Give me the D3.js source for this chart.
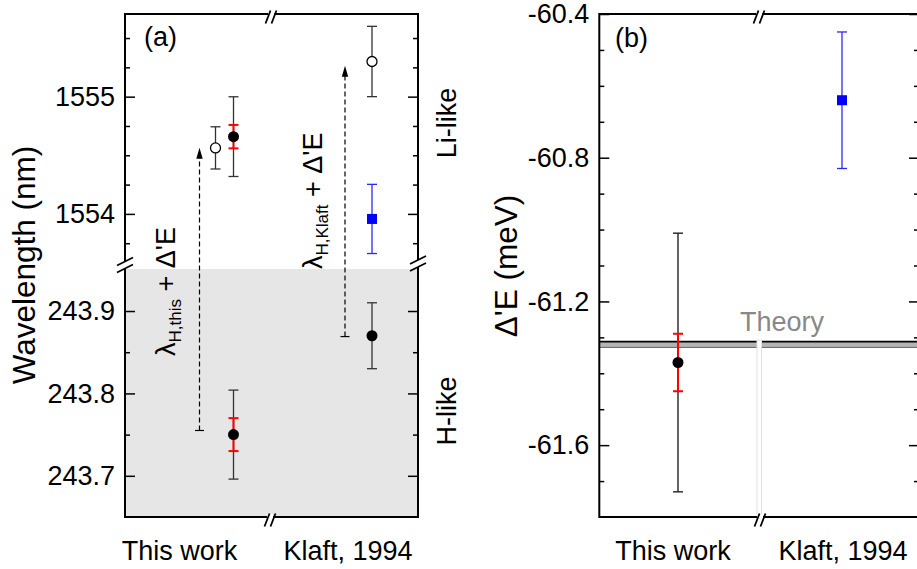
<!DOCTYPE html>
<html><head><meta charset="utf-8">
<script src="https://cdn.jsdelivr.net/npm/d3@7"></script>
<style>
html,body{margin:0;padding:0;background:#fff;}
text{font-family:"Liberation Sans",Arial,Helvetica,sans-serif;}
</style></head>
<body><svg id="c" width="917" height="569"></svg>
<script>
// ---------- DATA ----------
const categories = ["This work", "Klaft, 1994"];
// Panel (a), Li-like wavelengths (nm)
const liPredicted = [1554.563, 1555.30];       // open circles: lambda_H + Delta'E
const liPredictedErr = [0.18, 0.30];
const liThisWork = [1554.659];                 // filled circle (this work)
const liThisWorkErr = [0.34];
const liThisWorkErrStat = [0.10];
const liKlaft = [1553.957];                    // blue square (Klaft, 1994)
const liKlaftErr = [0.295];
// Panel (a), H-like wavelengths (nm)
const hLike = [243.750, 243.870];
const hLikeErr = [0.054, 0.040];
const hLikeErrStat = [0.020];
// Arrows lambda_H -> lambda_H + Delta'E
const arrowFrom = [243.755, 243.869];
const arrowTo = [1554.565, 1555.264];
// Panel (b), Delta'E (meV)
const dE = [-61.370, -60.640];
const dEErr = [0.36, 0.19];
const dEErrStat = [0.08];
const theoryDE = -61.320;
const theoryDEErr = 0.008;
// Ticks
const liTicks = [1554, 1555];
const liMinor = [1553.75, 1554.25, 1554.5, 1554.75, 1555.25, 1555.5];
const hTicks = [243.7, 243.8, 243.9];
const hMinor = [243.75, 243.85];
const dETicks = [-60.4, -60.8, -61.2, -61.6];
const dEMinor = [-60.5, -60.6, -60.7, -60.9, -61.0, -61.1, -61.3, -61.4, -61.5, -61.7];

// ---------- DRAW ----------
const svg = d3.select("#c");
const FS = 27;
const fmt1 = d => d.toFixed(1);

function slash(g, cx, cy, dx, dy) {
  g.append("line").attr("x1", cx - dx).attr("y1", cy + dy).attr("x2", cx + dx).attr("y2", cy - dy)
    .attr("stroke", "#000").attr("stroke-width", 1.8);
}
function hBreak(g, cx, y) { // break on a horizontal frame line
  g.append("rect").attr("x", cx - 3).attr("y", y - 3).attr("width", 6).attr("height", 6).attr("fill", "#fff");
  slash(g, cx - 3, y + 3, 2.5, 6.5);
  slash(g, cx + 3, y + 3, 2.5, 6.5);
}
function vBreak(g, x, y1, y2) { // break on a vertical frame line
  g.append("rect").attr("x", x - 3).attr("y", y1).attr("width", 6).attr("height", y2 - y1).attr("fill", "#fff");
  slash(g, x, y1, 8, 4);
  slash(g, x, y2, 8, 4);
}
function errBar(g, x, y1, y2, color, w, cap) {
  g.append("line").attr("x1", x).attr("x2", x).attr("y1", y1).attr("y2", y2).attr("stroke", color).attr("stroke-width", w);
  [y1, y2].forEach(y => g.append("line").attr("x1", x - cap).attr("x2", x + cap).attr("y1", y).attr("y2", y)
    .attr("stroke", color).attr("stroke-width", w));
}
function cleanAxis(sel) {
  sel.select(".domain").remove();
  sel.selectAll(".tick line").attr("stroke", "#000").attr("stroke-width", 1.5);
  sel.selectAll(".tick text").attr("font-size", FS).attr("fill", "#000")
     .style("font-family", '"Liberation Sans",Arial,sans-serif');
}

// ===== Panel (a) =====
const A = {l: 125, r: 418, t: 14, b: 517, brk: 269};
const xa = d3.scalePoint().domain(categories).range([179.5, 348]);
const yTop = d3.scaleLinear().domain([1553.53, 1555.705]).range([A.brk, A.t]);
const yBot = d3.scaleLinear().domain([243.65, 243.951]).range([A.b, A.brk]);
const ga = svg.append("g");

ga.append("rect").attr("x", A.l).attr("y", yBot.range()[1]).attr("width", A.r - A.l)
  .attr("height", yBot.range()[0] - yBot.range()[1]).attr("fill", "#e6e6e6");

// axes ticks
ga.append("g").attr("transform", `translate(${A.l},0)`)
  .call(d3.axisLeft(yTop).tickValues(liTicks).tickSizeInner(-10).tickSizeOuter(0).tickPadding(10).tickFormat(d3.format("d"))).call(cleanAxis);
ga.append("g").attr("transform", `translate(${A.l},0)`)
  .call(d3.axisLeft(yTop).tickValues(liMinor).tickSizeInner(-5).tickSizeOuter(0).tickFormat("")).call(cleanAxis);
ga.append("g").attr("transform", `translate(${A.l},0)`)
  .call(d3.axisLeft(yBot).tickValues(hTicks).tickSizeInner(-10).tickSizeOuter(0).tickPadding(10).tickFormat(fmt1)).call(cleanAxis);
ga.append("g").attr("transform", `translate(${A.l},0)`)
  .call(d3.axisLeft(yBot).tickValues(hMinor).tickSizeInner(-5).tickSizeOuter(0).tickFormat("")).call(cleanAxis);
ga.append("g").attr("transform", `translate(${A.r},0)`)
  .call(d3.axisRight(yTop).tickValues(liTicks).tickSizeInner(-10).tickSizeOuter(0).tickFormat("")).call(cleanAxis);
ga.append("g").attr("transform", `translate(${A.r},0)`)
  .call(d3.axisRight(yTop).tickValues(liMinor).tickSizeInner(-5).tickSizeOuter(0).tickFormat("")).call(cleanAxis);
ga.append("g").attr("transform", `translate(${A.r},0)`)
  .call(d3.axisRight(yBot).tickValues(hTicks).tickSizeInner(-10).tickSizeOuter(0).tickFormat("")).call(cleanAxis);
ga.append("g").attr("transform", `translate(${A.r},0)`)
  .call(d3.axisRight(yBot).tickValues(hMinor).tickSizeInner(-5).tickSizeOuter(0).tickFormat("")).call(cleanAxis);

// frame
ga.append("rect").attr("x", A.l).attr("y", A.t).attr("width", A.r - A.l).attr("height", A.b - A.t)
  .attr("fill", "none").attr("stroke", "#000").attr("stroke-width", 2);
hBreak(ga, 271, A.t);
hBreak(ga, 270, A.b);
vBreak(ga, A.l, 261.5, 268.5);
vBreak(ga, A.r, 260, 267);

// dashed arrows
arrowFrom.forEach((v, i) => {
  const x = xa(categories[i]) + (i === 0 ? 20 : -3);
  const y1 = yBot(v), y2 = yTop(arrowTo[i]);
  ga.append("line").attr("x1", x).attr("x2", x).attr("y1", y1).attr("y2", y2 + 10)
    .attr("stroke", "#000").attr("stroke-width", 1.2).attr("stroke-dasharray", "5,3");
  ga.append("line").attr("x1", x - 4.5).attr("x2", x + 4.5).attr("y1", y1).attr("y2", y1)
    .attr("stroke", "#000").attr("stroke-width", 1.2);
  ga.append("path").attr("d", `M${x},${y2} L${x - 3.2},${y2 + 11} L${x + 3.2},${y2 + 11} Z`).attr("fill", "#000");
});

// H-like points
hLike.forEach((v, i) => {
  const x = xa(categories[i]) + (i === 0 ? 54 : 24);
  errBar(ga, x, yBot(v + hLikeErr[i]), yBot(v - hLikeErr[i]), "#333", 1.3, 5);
  if (i < hLikeErrStat.length) errBar(ga, x, yBot(v + hLikeErrStat[i]), yBot(v - hLikeErrStat[i]), "#f00", 2, 5);
  ga.append("circle").attr("cx", x).attr("cy", yBot(v)).attr("r", 5.5).attr("fill", "#000");
});
// Li-like predicted (open circles)
liPredicted.forEach((v, i) => {
  const x = xa(categories[i]) + (i === 0 ? 36 : 24);
  errBar(ga, x, yTop(v + liPredictedErr[i]), yTop(v - liPredictedErr[i]), "#333", 1.3, 5);
  ga.append("circle").attr("cx", x).attr("cy", yTop(v)).attr("r", 5).attr("fill", "#fff")
    .attr("stroke", "#000").attr("stroke-width", 1.3);
});
// Li-like this work (filled)
liThisWork.forEach((v, i) => {
  const x = xa(categories[0]) + 54;
  errBar(ga, x, yTop(v + liThisWorkErr[i]), yTop(v - liThisWorkErr[i]), "#333", 1.3, 5);
  errBar(ga, x, yTop(v + liThisWorkErrStat[i]), yTop(v - liThisWorkErrStat[i]), "#f00", 2, 5);
  ga.append("circle").attr("cx", x).attr("cy", yTop(v)).attr("r", 5.5).attr("fill", "#000");
});
// Li-like Klaft (blue square)
liKlaft.forEach((v, i) => {
  const x = xa(categories[1]) + 24;
  errBar(ga, x, yTop(v + liKlaftErr[i]), yTop(v - liKlaftErr[i]), "#2a2aff", 1.3, 5);
  ga.append("rect").attr("x", x - 5).attr("y", yTop(v) - 5).attr("width", 10).attr("height", 10).attr("fill", "#00f");
});

// texts panel (a)
categories.forEach(c => ga.append("text").attr("x", xa(c)).attr("y", 560).attr("text-anchor", "middle")
  .attr("font-size", FS).text(c));
ga.append("text").attr("x", 144).attr("y", 46).attr("font-size", FS).text("(a)");
ga.append("text").attr("transform", "translate(35,265) rotate(-90)").attr("text-anchor", "middle")
  .attr("font-size", 31.5).text("Wavelength (nm)");
ga.append("text").attr("transform", "translate(456,123) rotate(-90)").attr("text-anchor", "middle")
  .attr("font-size", FS).text("Li-like");
ga.append("text").attr("transform", "translate(456,411) rotate(-90)").attr("text-anchor", "middle")
  .attr("font-size", FS).text("H-like");
function lamLabel(tx, ty, sub) {
  const t = ga.append("text").attr("transform", `translate(${tx},${ty}) rotate(-90)`).attr("font-size", FS);
  t.append("tspan").text("λ");
  t.append("tspan").attr("font-size", 17).attr("dy", 6).text("H," + sub);
  t.append("tspan").attr("dy", -6).text(" + Δ'E");
}
lamLabel(175, 356, "this");
lamLabel(322, 269, "Klaft");

// ===== Panel (b) =====
const B = {l: 599.3, r: 919, t: 14, b: 517};
const xb = d3.scalePoint().domain(categories).range([673, 843]);
const yb = d3.scaleLinear().domain([-61.8, -60.4]).range([B.b, B.t]);
const gb = svg.append("g");

gb.append("g").attr("transform", `translate(${B.l},0)`)
  .call(d3.axisLeft(yb).tickValues(dETicks).tickSizeInner(-10).tickSizeOuter(0).tickPadding(10).tickFormat(fmt1)).call(cleanAxis);
gb.append("g").attr("transform", `translate(${B.l},0)`)
  .call(d3.axisLeft(yb).tickValues(dEMinor).tickSizeInner(-5).tickSizeOuter(0).tickFormat("")).call(cleanAxis);
gb.append("g").attr("transform", `translate(${B.r},0)`)
  .call(d3.axisRight(yb).tickValues(dETicks).tickSizeInner(-10).tickSizeOuter(0).tickFormat("")).call(cleanAxis);
gb.append("g").attr("transform", `translate(${B.r},0)`)
  .call(d3.axisRight(yb).tickValues(dEMinor).tickSizeInner(-5).tickSizeOuter(0).tickFormat("")).call(cleanAxis);

// theory band
const tyTop = yb(theoryDE + theoryDEErr), tyBot = yb(theoryDE - theoryDEErr);
gb.append("rect").attr("x", B.l).attr("y", tyTop).attr("width", B.r - B.l).attr("height", tyBot - tyTop).attr("fill", "#b4b4b4");
gb.append("line").attr("x1", B.l).attr("x2", B.r).attr("y1", tyTop).attr("y2", tyTop).attr("stroke", "#000").attr("stroke-width", 1.8);
gb.append("line").attr("x1", B.l).attr("x2", B.r).attr("y1", tyBot).attr("y2", tyBot).attr("stroke", "#666").attr("stroke-width", 1);
// break gap through theory line
gb.append("rect").attr("x", 757).attr("y", tyTop - 1.5).attr("width", 4.5).attr("height", B.b - tyTop - 1)
  .attr("fill", "#fff").attr("stroke", "#e2e2e2").attr("stroke-width", 1);
gb.append("text").attr("x", 782).attr("y", 331).attr("text-anchor", "middle").attr("font-size", FS)
  .attr("fill", "#888").text("Theory");

// frame
gb.append("rect").attr("x", B.l).attr("y", B.t).attr("width", B.r - B.l).attr("height", B.b - B.t)
  .attr("fill", "none").attr("stroke", "#000").attr("stroke-width", 2);
hBreak(gb, 759, B.t);
hBreak(gb, 760, B.b);

// points
dE.forEach((v, i) => {
  const x = xb(categories[i]) + (i === 0 ? 5 : -1);
  const col = i === 0 ? "#111" : "#2a2aff";
  errBar(gb, x, yb(v + dEErr[i]), yb(v - dEErr[i]), col, 1.3, 5);
  if (i < dEErrStat.length) errBar(gb, x, yb(v + dEErrStat[i]), yb(v - dEErrStat[i]), "#f00", 2, 5);
  if (i === 0) gb.append("circle").attr("cx", x).attr("cy", yb(v)).attr("r", 5.5).attr("fill", "#000");
  else gb.append("rect").attr("x", x - 5).attr("y", yb(v) - 5).attr("width", 10).attr("height", 10).attr("fill", "#00f");
});

categories.forEach(c => gb.append("text").attr("x", xb(c)).attr("y", 560).attr("text-anchor", "middle")
  .attr("font-size", FS).text(c));
gb.append("text").attr("x", 615).attr("y", 47).attr("font-size", FS).text("(b)");
gb.append("text").attr("transform", "translate(517,266) rotate(-90)").attr("text-anchor", "middle")
  .attr("font-size", 31.5).text("Δ'E (meV)");
</script></body></html>
